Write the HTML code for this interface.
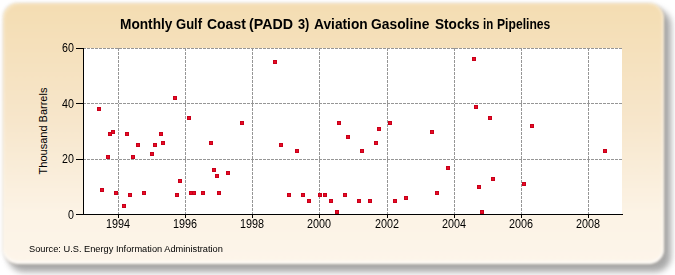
<!DOCTYPE html>
<html><head><meta charset="utf-8"><style>
html,body{margin:0;padding:0;background:#fff;}
body{width:675px;height:275px;position:relative;overflow:hidden;font-family:"Liberation Sans",sans-serif;}
.shadow{position:absolute;left:8px;top:9px;width:663px;height:263px;border-radius:16px;background:rgba(90,90,90,0.52);filter:blur(3px);}
.box{position:absolute;left:3px;top:3px;width:661px;height:261px;border-radius:15px;background:linear-gradient(to bottom,#f4ddb2 0%,#f7e6cb 45%,#fcf3e5 80%,#fdf5ea 100%);box-shadow:0 0 1.5px 0.5px rgba(150,130,100,0.18), inset 0 -3px 2px rgba(255,255,255,0.55), inset -2px 0 2px rgba(255,255,255,0.4), inset 2px 2px 2px rgba(255,250,240,0.25);filter:blur(1px);}
.tw{position:absolute;top:16px;font-weight:bold;font-size:14.2px;line-height:17px;color:#000;white-space:nowrap;transform-origin:0 50%;}
svg{position:absolute;left:0;top:0;}
.yl{position:absolute;left:40px;width:34px;text-align:right;font-size:12px;color:#000;line-height:16px;transform:scaleX(0.89);transform-origin:right center;}
.xl{position:absolute;top:216px;width:40px;text-align:center;font-size:12px;color:#000;line-height:16px;transform:scaleX(0.9);}
.ytitle{position:absolute;left:43px;top:131px;transform:translate(-50%,-50%) rotate(-90deg);font-size:11px;white-space:nowrap;color:#000;}
.src{position:absolute;left:29px;top:243px;font-size:9.7px;color:#000;white-space:nowrap;transform:scaleX(0.955);transform-origin:left center;}
</style></head><body>
<div class="shadow"></div>
<div class="box"></div>
<span class="tw" style="left:119.94px;transform:scaleX(0.9642)">Monthly</span><span class="tw" style="left:175.78px;transform:scaleX(0.9179)">Gulf</span><span class="tw" style="left:207.22px;transform:scaleX(0.9842)">Coast</span><span class="tw" style="left:249.2px;transform:scaleX(1.0023)">(PADD</span><span class="tw" style="left:298.2px;transform:scaleX(0.9)">3)</span><span class="tw" style="left:313.7px;transform:scaleX(0.9691)">Aviation</span><span class="tw" style="left:371.43px;transform:scaleX(0.9746)">Gasoline</span><span class="tw" style="left:434.54px;transform:scaleX(0.96)">Stocks</span><span class="tw" style="left:483.29px;transform:scaleX(0.8091)">in</span><span class="tw" style="left:496.94px;transform:scaleX(0.8557)">Pipelines</span>
<svg width="675" height="275" viewBox="0 0 675 275" shape-rendering="crispEdges">
<rect x="84" y="48" width="538" height="166" fill="#fff"/>
<line x1="84" y1="48.5" x2="622" y2="48.5" stroke="#969696" stroke-width="1" stroke-dasharray="3 1" stroke-dashoffset="1"/>
<line x1="84" y1="103.5" x2="622" y2="103.5" stroke="#969696" stroke-width="1" stroke-dasharray="3 1" stroke-dashoffset="1"/>
<line x1="84" y1="159.5" x2="622" y2="159.5" stroke="#969696" stroke-width="1" stroke-dasharray="3 1" stroke-dashoffset="1"/>
<line x1="118.5" y1="48" x2="118.5" y2="214" stroke="#969696" stroke-width="1" stroke-dasharray="3 1"/>
<line x1="185.5" y1="48" x2="185.5" y2="214" stroke="#969696" stroke-width="1" stroke-dasharray="3 1"/>
<line x1="252.5" y1="48" x2="252.5" y2="214" stroke="#969696" stroke-width="1" stroke-dasharray="3 1"/>
<line x1="319.5" y1="48" x2="319.5" y2="214" stroke="#969696" stroke-width="1" stroke-dasharray="3 1"/>
<line x1="387.5" y1="48" x2="387.5" y2="214" stroke="#969696" stroke-width="1" stroke-dasharray="3 1"/>
<line x1="454.5" y1="48" x2="454.5" y2="214" stroke="#969696" stroke-width="1" stroke-dasharray="3 1"/>
<line x1="521.5" y1="48" x2="521.5" y2="214" stroke="#969696" stroke-width="1" stroke-dasharray="3 1"/>
<line x1="588.5" y1="48" x2="588.5" y2="214" stroke="#969696" stroke-width="1" stroke-dasharray="3 1"/>
<rect x="83" y="48" width="1" height="167" fill="#000"/>
<rect x="76" y="214" width="547" height="1" fill="#000"/>
<rect x="76" y="48" width="7" height="1" fill="#000"/>
<rect x="76" y="103" width="7" height="1" fill="#000"/>
<rect x="76" y="159" width="7" height="1" fill="#000"/>
<rect x="118" y="215" width="1" height="3" fill="#000"/>
<rect x="185" y="215" width="1" height="3" fill="#000"/>
<rect x="252" y="215" width="1" height="3" fill="#000"/>
<rect x="319" y="215" width="1" height="3" fill="#000"/>
<rect x="387" y="215" width="1" height="3" fill="#000"/>
<rect x="454" y="215" width="1" height="3" fill="#000"/>
<rect x="521" y="215" width="1" height="3" fill="#000"/>
<rect x="588" y="215" width="1" height="3" fill="#000"/>
<rect x="97" y="107" width="4" height="4" fill="#c8001a"/><rect x="98" y="108" width="2" height="2" fill="#e80a24"/>
<rect x="187" y="116" width="4" height="4" fill="#c8001a"/><rect x="188" y="117" width="2" height="2" fill="#e80a24"/>
<rect x="108" y="132" width="4" height="4" fill="#c8001a"/><rect x="109" y="133" width="2" height="2" fill="#e80a24"/>
<rect x="111" y="130" width="4" height="4" fill="#c8001a"/><rect x="112" y="131" width="2" height="2" fill="#e80a24"/>
<rect x="125" y="132" width="4" height="4" fill="#c8001a"/><rect x="126" y="133" width="2" height="2" fill="#e80a24"/>
<rect x="159" y="132" width="4" height="4" fill="#c8001a"/><rect x="160" y="133" width="2" height="2" fill="#e80a24"/>
<rect x="161" y="141" width="4" height="4" fill="#c8001a"/><rect x="162" y="142" width="2" height="2" fill="#e80a24"/>
<rect x="136" y="143" width="4" height="4" fill="#c8001a"/><rect x="137" y="144" width="2" height="2" fill="#e80a24"/>
<rect x="153" y="143" width="4" height="4" fill="#c8001a"/><rect x="154" y="144" width="2" height="2" fill="#e80a24"/>
<rect x="173" y="96" width="4" height="4" fill="#c8001a"/><rect x="174" y="97" width="2" height="2" fill="#e80a24"/>
<rect x="106" y="155" width="4" height="4" fill="#c8001a"/><rect x="107" y="156" width="2" height="2" fill="#e80a24"/>
<rect x="131" y="155" width="4" height="4" fill="#c8001a"/><rect x="132" y="156" width="2" height="2" fill="#e80a24"/>
<rect x="150" y="152" width="4" height="4" fill="#c8001a"/><rect x="151" y="153" width="2" height="2" fill="#e80a24"/>
<rect x="178" y="179" width="4" height="4" fill="#c8001a"/><rect x="179" y="180" width="2" height="2" fill="#e80a24"/>
<rect x="100" y="188" width="4" height="4" fill="#c8001a"/><rect x="101" y="189" width="2" height="2" fill="#e80a24"/>
<rect x="114" y="191" width="4" height="4" fill="#c8001a"/><rect x="115" y="192" width="2" height="2" fill="#e80a24"/>
<rect x="128" y="193" width="4" height="4" fill="#c8001a"/><rect x="129" y="194" width="2" height="2" fill="#e80a24"/>
<rect x="122" y="204" width="4" height="4" fill="#c8001a"/><rect x="123" y="205" width="2" height="2" fill="#e80a24"/>
<rect x="142" y="191" width="4" height="4" fill="#c8001a"/><rect x="143" y="192" width="2" height="2" fill="#e80a24"/>
<rect x="175" y="193" width="4" height="4" fill="#c8001a"/><rect x="176" y="194" width="2" height="2" fill="#e80a24"/>
<rect x="189" y="191" width="4" height="4" fill="#c8001a"/><rect x="190" y="192" width="2" height="2" fill="#e80a24"/>
<rect x="192" y="191" width="4" height="4" fill="#c8001a"/><rect x="193" y="192" width="2" height="2" fill="#e80a24"/>
<rect x="201" y="191" width="4" height="4" fill="#c8001a"/><rect x="202" y="192" width="2" height="2" fill="#e80a24"/>
<rect x="240" y="121" width="4" height="4" fill="#c8001a"/><rect x="241" y="122" width="2" height="2" fill="#e80a24"/>
<rect x="209" y="141" width="4" height="4" fill="#c8001a"/><rect x="210" y="142" width="2" height="2" fill="#e80a24"/>
<rect x="279" y="143" width="4" height="4" fill="#c8001a"/><rect x="280" y="144" width="2" height="2" fill="#e80a24"/>
<rect x="295" y="149" width="4" height="4" fill="#c8001a"/><rect x="296" y="150" width="2" height="2" fill="#e80a24"/>
<rect x="212" y="168" width="4" height="4" fill="#c8001a"/><rect x="213" y="169" width="2" height="2" fill="#e80a24"/>
<rect x="215" y="174" width="4" height="4" fill="#c8001a"/><rect x="216" y="175" width="2" height="2" fill="#e80a24"/>
<rect x="226" y="171" width="4" height="4" fill="#c8001a"/><rect x="227" y="172" width="2" height="2" fill="#e80a24"/>
<rect x="217" y="191" width="4" height="4" fill="#c8001a"/><rect x="218" y="192" width="2" height="2" fill="#e80a24"/>
<rect x="287" y="193" width="4" height="4" fill="#c8001a"/><rect x="288" y="194" width="2" height="2" fill="#e80a24"/>
<rect x="301" y="193" width="4" height="4" fill="#c8001a"/><rect x="302" y="194" width="2" height="2" fill="#e80a24"/>
<rect x="307" y="199" width="4" height="4" fill="#c8001a"/><rect x="308" y="200" width="2" height="2" fill="#e80a24"/>
<rect x="273" y="60" width="4" height="4" fill="#c8001a"/><rect x="274" y="61" width="2" height="2" fill="#e80a24"/>
<rect x="318" y="193" width="4" height="4" fill="#c8001a"/><rect x="319" y="194" width="2" height="2" fill="#e80a24"/>
<rect x="323" y="193" width="4" height="4" fill="#c8001a"/><rect x="324" y="194" width="2" height="2" fill="#e80a24"/>
<rect x="329" y="199" width="4" height="4" fill="#c8001a"/><rect x="330" y="200" width="2" height="2" fill="#e80a24"/>
<rect x="335" y="210" width="4" height="4" fill="#c8001a"/><rect x="336" y="211" width="2" height="2" fill="#e80a24"/>
<rect x="343" y="193" width="4" height="4" fill="#c8001a"/><rect x="344" y="194" width="2" height="2" fill="#e80a24"/>
<rect x="357" y="199" width="4" height="4" fill="#c8001a"/><rect x="358" y="200" width="2" height="2" fill="#e80a24"/>
<rect x="368" y="199" width="4" height="4" fill="#c8001a"/><rect x="369" y="200" width="2" height="2" fill="#e80a24"/>
<rect x="393" y="199" width="4" height="4" fill="#c8001a"/><rect x="394" y="200" width="2" height="2" fill="#e80a24"/>
<rect x="404" y="196" width="4" height="4" fill="#c8001a"/><rect x="405" y="197" width="2" height="2" fill="#e80a24"/>
<rect x="337" y="121" width="4" height="4" fill="#c8001a"/><rect x="338" y="122" width="2" height="2" fill="#e80a24"/>
<rect x="346" y="135" width="4" height="4" fill="#c8001a"/><rect x="347" y="136" width="2" height="2" fill="#e80a24"/>
<rect x="377" y="127" width="4" height="4" fill="#c8001a"/><rect x="378" y="128" width="2" height="2" fill="#e80a24"/>
<rect x="374" y="141" width="4" height="4" fill="#c8001a"/><rect x="375" y="142" width="2" height="2" fill="#e80a24"/>
<rect x="388" y="121" width="4" height="4" fill="#c8001a"/><rect x="389" y="122" width="2" height="2" fill="#e80a24"/>
<rect x="430" y="130" width="4" height="4" fill="#c8001a"/><rect x="431" y="131" width="2" height="2" fill="#e80a24"/>
<rect x="360" y="149" width="4" height="4" fill="#c8001a"/><rect x="361" y="150" width="2" height="2" fill="#e80a24"/>
<rect x="472" y="57" width="4" height="4" fill="#c8001a"/><rect x="473" y="58" width="2" height="2" fill="#e80a24"/>
<rect x="474" y="105" width="4" height="4" fill="#c8001a"/><rect x="475" y="106" width="2" height="2" fill="#e80a24"/>
<rect x="488" y="116" width="4" height="4" fill="#c8001a"/><rect x="489" y="117" width="2" height="2" fill="#e80a24"/>
<rect x="530" y="124" width="4" height="4" fill="#c8001a"/><rect x="531" y="125" width="2" height="2" fill="#e80a24"/>
<rect x="446" y="166" width="4" height="4" fill="#c8001a"/><rect x="447" y="167" width="2" height="2" fill="#e80a24"/>
<rect x="491" y="177" width="4" height="4" fill="#c8001a"/><rect x="492" y="178" width="2" height="2" fill="#e80a24"/>
<rect x="477" y="185" width="4" height="4" fill="#c8001a"/><rect x="478" y="186" width="2" height="2" fill="#e80a24"/>
<rect x="522" y="182" width="4" height="4" fill="#c8001a"/><rect x="523" y="183" width="2" height="2" fill="#e80a24"/>
<rect x="435" y="191" width="4" height="4" fill="#c8001a"/><rect x="436" y="192" width="2" height="2" fill="#e80a24"/>
<rect x="480" y="210" width="4" height="4" fill="#c8001a"/><rect x="481" y="211" width="2" height="2" fill="#e80a24"/>
<rect x="603" y="149" width="4" height="4" fill="#c8001a"/><rect x="604" y="150" width="2" height="2" fill="#e80a24"/>
</svg>
<div class="yl" style="top:40px">60</div><div class="yl" style="top:96px">40</div><div class="yl" style="top:151px">20</div><div class="yl" style="top:207px">0</div><div class="xl" style="left:98px">1994</div><div class="xl" style="left:165px">1996</div><div class="xl" style="left:232px">1998</div><div class="xl" style="left:299px">2000</div><div class="xl" style="left:367px">2002</div><div class="xl" style="left:434px">2004</div><div class="xl" style="left:501px">2006</div><div class="xl" style="left:568px">2008</div>
<div class="ytitle">Thousand Barrels</div>
<div class="src">Source: U.S. Energy Information Administration</div>
</body></html>
